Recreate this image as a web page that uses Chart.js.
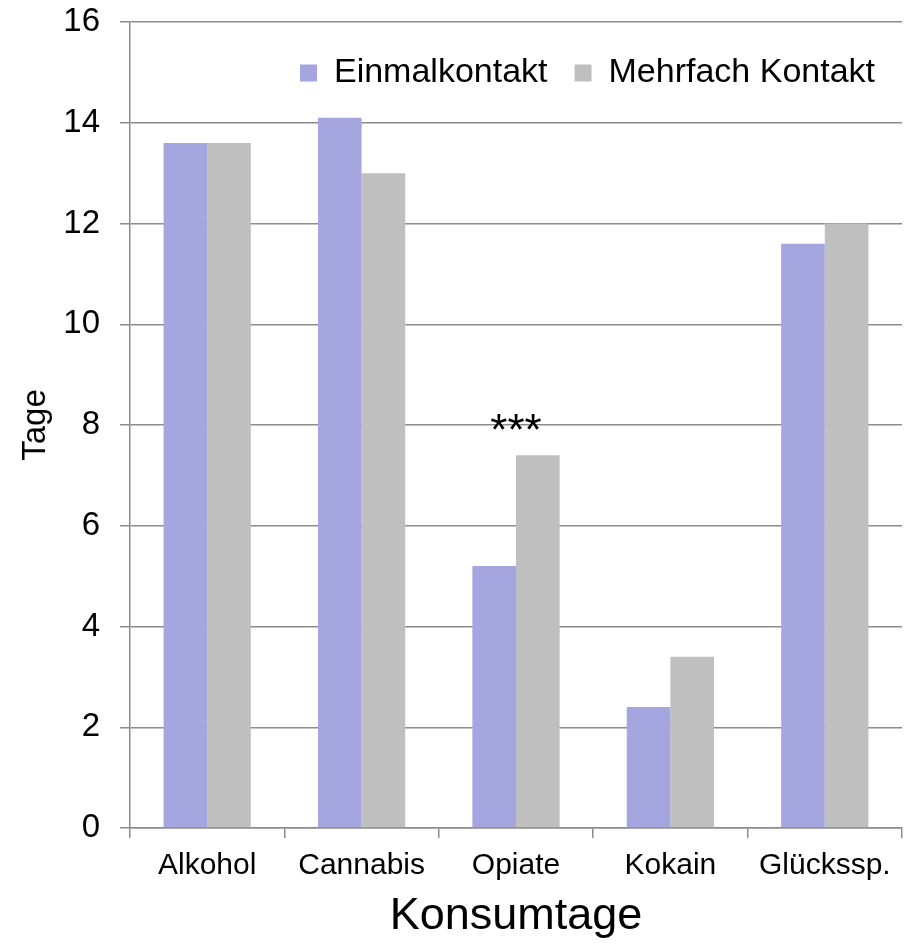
<!DOCTYPE html>
<html>
<head>
<meta charset="utf-8">
<script src="https://cdn.jsdelivr.net/npm/chart.js@4.4.1/dist/chart.umd.min.js"></script>
<style>
  html, body { margin: 0; padding: 0; background: #fff; }
  #wrap { width: 910px; height: 945px; position: relative; }
</style>
</head>
<body>
<div id="wrap"><canvas id="grafico"></canvas></div>
<script>
const kategorien = ["Alkohol", "Cannabis", "Opiate", "Kokain", "Glückssp."];
const einmalkontakt = [13.6, 14.1, 5.2, 2.4, 11.6];
const mehrfachKontakt = [13.6, 13.0, 7.4, 3.4, 12.0];
const yTicks = [0, 2, 4, 6, 8, 10, 12, 14, 16];
const signifikanz = [{ kategorie: "Opiate", wert: 8, text: "***" }];

const schrift = "'Liberation Sans', Arial, sans-serif";
const gitterFarbe = "#8c8c8c";

// legend sits inside the plot area: it takes no height in the layout,
// then gets its real height back so it is not clipped away
const legendeImPlot = {
    id: "legendeImPlot",
    beforeLayout(chart) {
        const leg = chart.legend;
        if (leg && !leg._gepatcht) {
            const fitOrig = leg.fit;
            leg.fit = function () {
                fitOrig.call(this);
                this._echteHoehe = this.height;
                this.height = 0;
            };
            leg._gepatcht = true;
        }
    },
    afterLayout(chart) {
        const leg = chart.legend;
        if (leg && leg._echteHoehe) {
            leg.top += 7;
            leg.height = leg._echteHoehe;
            leg.bottom = leg.top + leg.height;
        }
    },
};

const sternePlugin = {
    id: "sterne",
    afterDatasetsDraw(chart) {
        const ctx = chart.ctx;
        const x = chart.scales.x;
        const y = chart.scales.y;
        ctx.save();
        ctx.fillStyle = "#000";
        ctx.font = "44px " + schrift;
        ctx.textAlign = "center";
        ctx.textBaseline = "alphabetic";
        signifikanz.forEach((s) => {
            const px = x.getPixelForValue(kategorien.indexOf(s.kategorie));
            const py = y.getPixelForValue(s.wert);
            ctx.fillText(s.text, px, py + 20);
        });
        ctx.restore();
    },
};

const dataGrafico = {
    labels: kategorien,
    datasets: [
        {
            label: "Einmalkontakt",
            backgroundColor: "#a5a5df",
            data: einmalkontakt,
        },
        {
            label: "Mehrfach Kontakt",
            backgroundColor: "#bfbfbf",
            data: mehrfachKontakt,
        },
    ],
};

const configGrafico = {
    type: "bar",
    data: dataGrafico,
    options: {
        responsive: true,
        maintainAspectRatio: false,
        animation: false,
        categoryPercentage: 0.565,
        barPercentage: 1.0,
        layout: {
            padding: { left: 0, right: 8, top: 22, bottom: 0 },
        },
        plugins: {
            legend: {
                position: "top",
                align: "end",
                labels: {
                    boxWidth: 17,
                    boxHeight: 17,
                    padding: 27,
                    color: "#000",
                    font: { size: 34, family: schrift },
                },
            },
            tooltip: { enabled: false },
        },
        scales: {
            x: {
                afterFit: (scale) => { scale.height = 117; },
                grid: {
                    display: true,
                    drawOnChartArea: false,
                    offset: true,
                    tickLength: 10,
                    color: gitterFarbe,
                    lineWidth: 1.5,
                },
                border: { color: gitterFarbe, width: 1.5 },
                ticks: {
                    color: "#000",
                    padding: 10,
                    maxRotation: 0,
                    font: { size: 30, family: schrift },
                },
                title: {
                    display: true,
                    text: "Konsumtage",
                    color: "#000",
                    padding: { top: 0, bottom: 1 },
                    font: { size: 45, family: schrift },
                },
            },
            y: {
                min: 0,
                max: 16,
                afterFit: (scale) => {
                    scale.width = 130;
                    scale.paddingTop = 0;
                    scale.paddingBottom = 0;
                },
                afterBuildTicks: (scale) => {
                    scale.ticks = yTicks.map((v) => ({ value: v }));
                },
                grid: {
                    display: true,
                    tickLength: 10,
                    color: gitterFarbe,
                    lineWidth: 1.5,
                },
                border: { color: gitterFarbe, width: 1.5 },
                ticks: {
                    color: "#000",
                    padding: 20,
                    font: { size: 33, family: schrift },
                },
                title: {
                    display: true,
                    text: "Tage",
                    color: "#000",
                    padding: { top: 16, bottom: 0 },
                    font: { size: 33, family: schrift },
                },
            },
        },
    },
    plugins: [legendeImPlot, sternePlugin],
};

const chart1 = new Chart(document.getElementById("grafico"), configGrafico);
</script>
</body>
</html>
